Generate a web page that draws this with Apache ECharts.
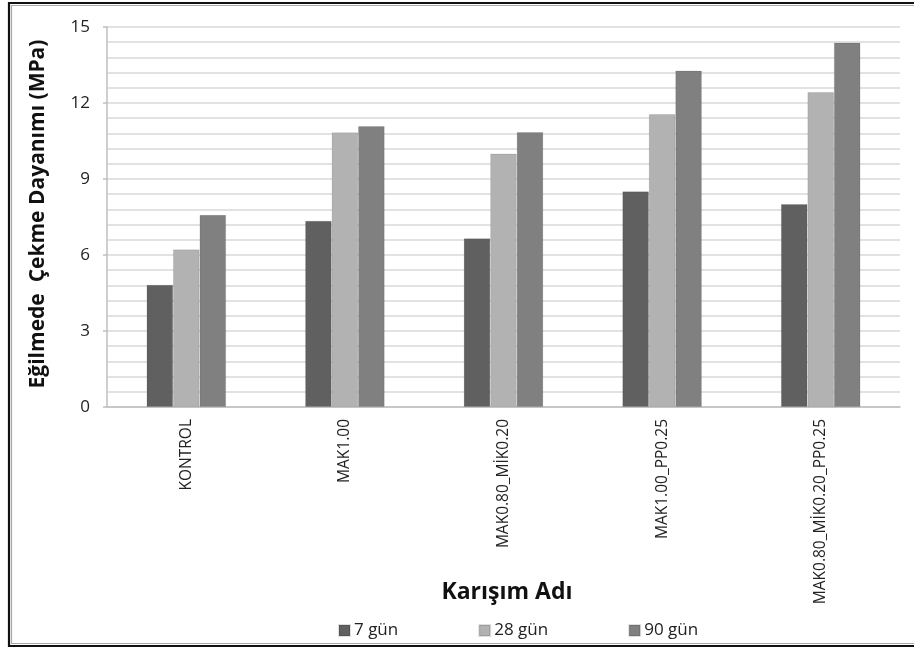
<!DOCTYPE html>
<html>
<head>
<meta charset="utf-8">
<script src="https://cdn.jsdelivr.net/npm/echarts@6/dist/echarts.min.js"></script>
<style>
  html, body { margin: 0; padding: 0; background: #ffffff; }
  #chart { width: 914px; height: 650px; }
</style>
</head>
<body>
<div id="chart"></div>
<script>
// Mixture names (x categories)
const categories = ['KONTROL', 'MAK1.00', 'MAK0.80_MİK0.20', 'MAK1.00_PP0.25', 'MAK0.80_MİK0.20_PP0.25'];
// Flexural strength (MPa) by curing age
const gun7  = [4.82, 7.35, 6.66, 8.51, 8.01];
const gun28 = [6.22, 10.84, 10.00, 11.56, 12.43];
const gun90 = [7.58, 11.09, 10.85, 13.28, 14.38];
const seriesNames = ['7 gün', '28 gün', '90 gün'];
const seriesColors = ['#606060', '#b2b2b2', '#808080'];
const yTicks = [0, 3, 6, 9, 12, 15];

const font = '"Open Sans", "DejaVu Sans", sans-serif';
const chart = echarts.init(document.getElementById('chart'), null, { renderer: 'canvas' });

function barSeries(name, data, color) {
  return {
    name: name,
    type: 'bar',
    data: data,
    barWidth: '16.7%',
    barGap: '0%',
    barCategoryGap: '50%',
    itemStyle: { color: color, borderColor: 'rgba(0,0,0,0.12)', borderWidth: 0.8 },
    emphasis: { disabled: true }
  };
}

chart.setOption({
  animation: false,
  backgroundColor: '#ffffff',
  grid: { left: 107, right: 14, top: 27, bottom: 243, containLabel: false },
  xAxis: {
    type: 'category',
    data: categories,
    axisLine: { lineStyle: { color: '#bfbfbf', width: 1.5 } },
    axisTick: { show: false },
    axisLabel: {
      rotate: 90,
      margin: 12,
      color: '#222',
      fontFamily: font,
      fontSize: 15.5
    }
  },
  yAxis: {
    type: 'value',
    min: yTicks[0],
    max: yTicks[yTicks.length - 1],
    interval: 3,
    axisLine: { show: true, lineStyle: { color: '#bfbfbf', width: 1.5 } },
    axisTick: { show: true, length: 4, lineStyle: { color: '#bfbfbf', width: 1.5 } },
    axisLabel: { color: '#222', fontFamily: font, fontSize: 17, margin: 17 },
    splitLine: { show: true, lineStyle: { color: '#d9d9d9', width: 1.5 } },
    minorTick: { show: false, splitNumber: 5 },
    minorSplitLine: { show: true, lineStyle: { color: '#d9d9d9', width: 1.5 } }
  },
  legend: {
    data: seriesNames,
    left: 333,
    top: 617,
    itemWidth: 11,
    itemHeight: 11,
    itemGap: 80,
    icon: 'rect',
    textStyle: { color: '#222', fontFamily: font, fontSize: 17, padding: [0, 0, 0, -1] }
  },
  series: [
    barSeries(seriesNames[0], gun7, seriesColors[0]),
    barSeries(seriesNames[1], gun28, seriesColors[1]),
    barSeries(seriesNames[2], gun90, seriesColors[2])
  ],
  graphic: [
    {
      type: 'rect',
      shape: { x: 9, y: 3, width: 930, height: 643 },
      style: { fill: 'none', stroke: '#111', lineWidth: 2.2 },
      silent: true
    },
    {
      type: 'rect',
      shape: { x: 11.5, y: 5.5, width: 930, height: 638 },
      style: { fill: 'none', stroke: '#aaaaaa', lineWidth: 1.2 },
      silent: true
    },
    {
      type: 'text',
      x: 38,
      y: 214,
      rotation: Math.PI / 2,
      style: {
        text: 'Eğilmede  Çekme Dayanımı (MPa)',
        fontFamily: font,
        fontWeight: 'bold',
        fontSize: 21,
        fill: '#111',
        textAlign: 'center',
        textVerticalAlign: 'middle'
      },
      silent: true
    },
    {
      type: 'text',
      x: 507,
      y: 592,
      style: {
        text: 'Karışım Adı',
        fontFamily: font,
        fontWeight: 'bold',
        fontSize: 23,
        fill: '#111',
        textAlign: 'center',
        textVerticalAlign: 'middle'
      },
      silent: true
    }
  ]
});
</script>
</body>
</html>
